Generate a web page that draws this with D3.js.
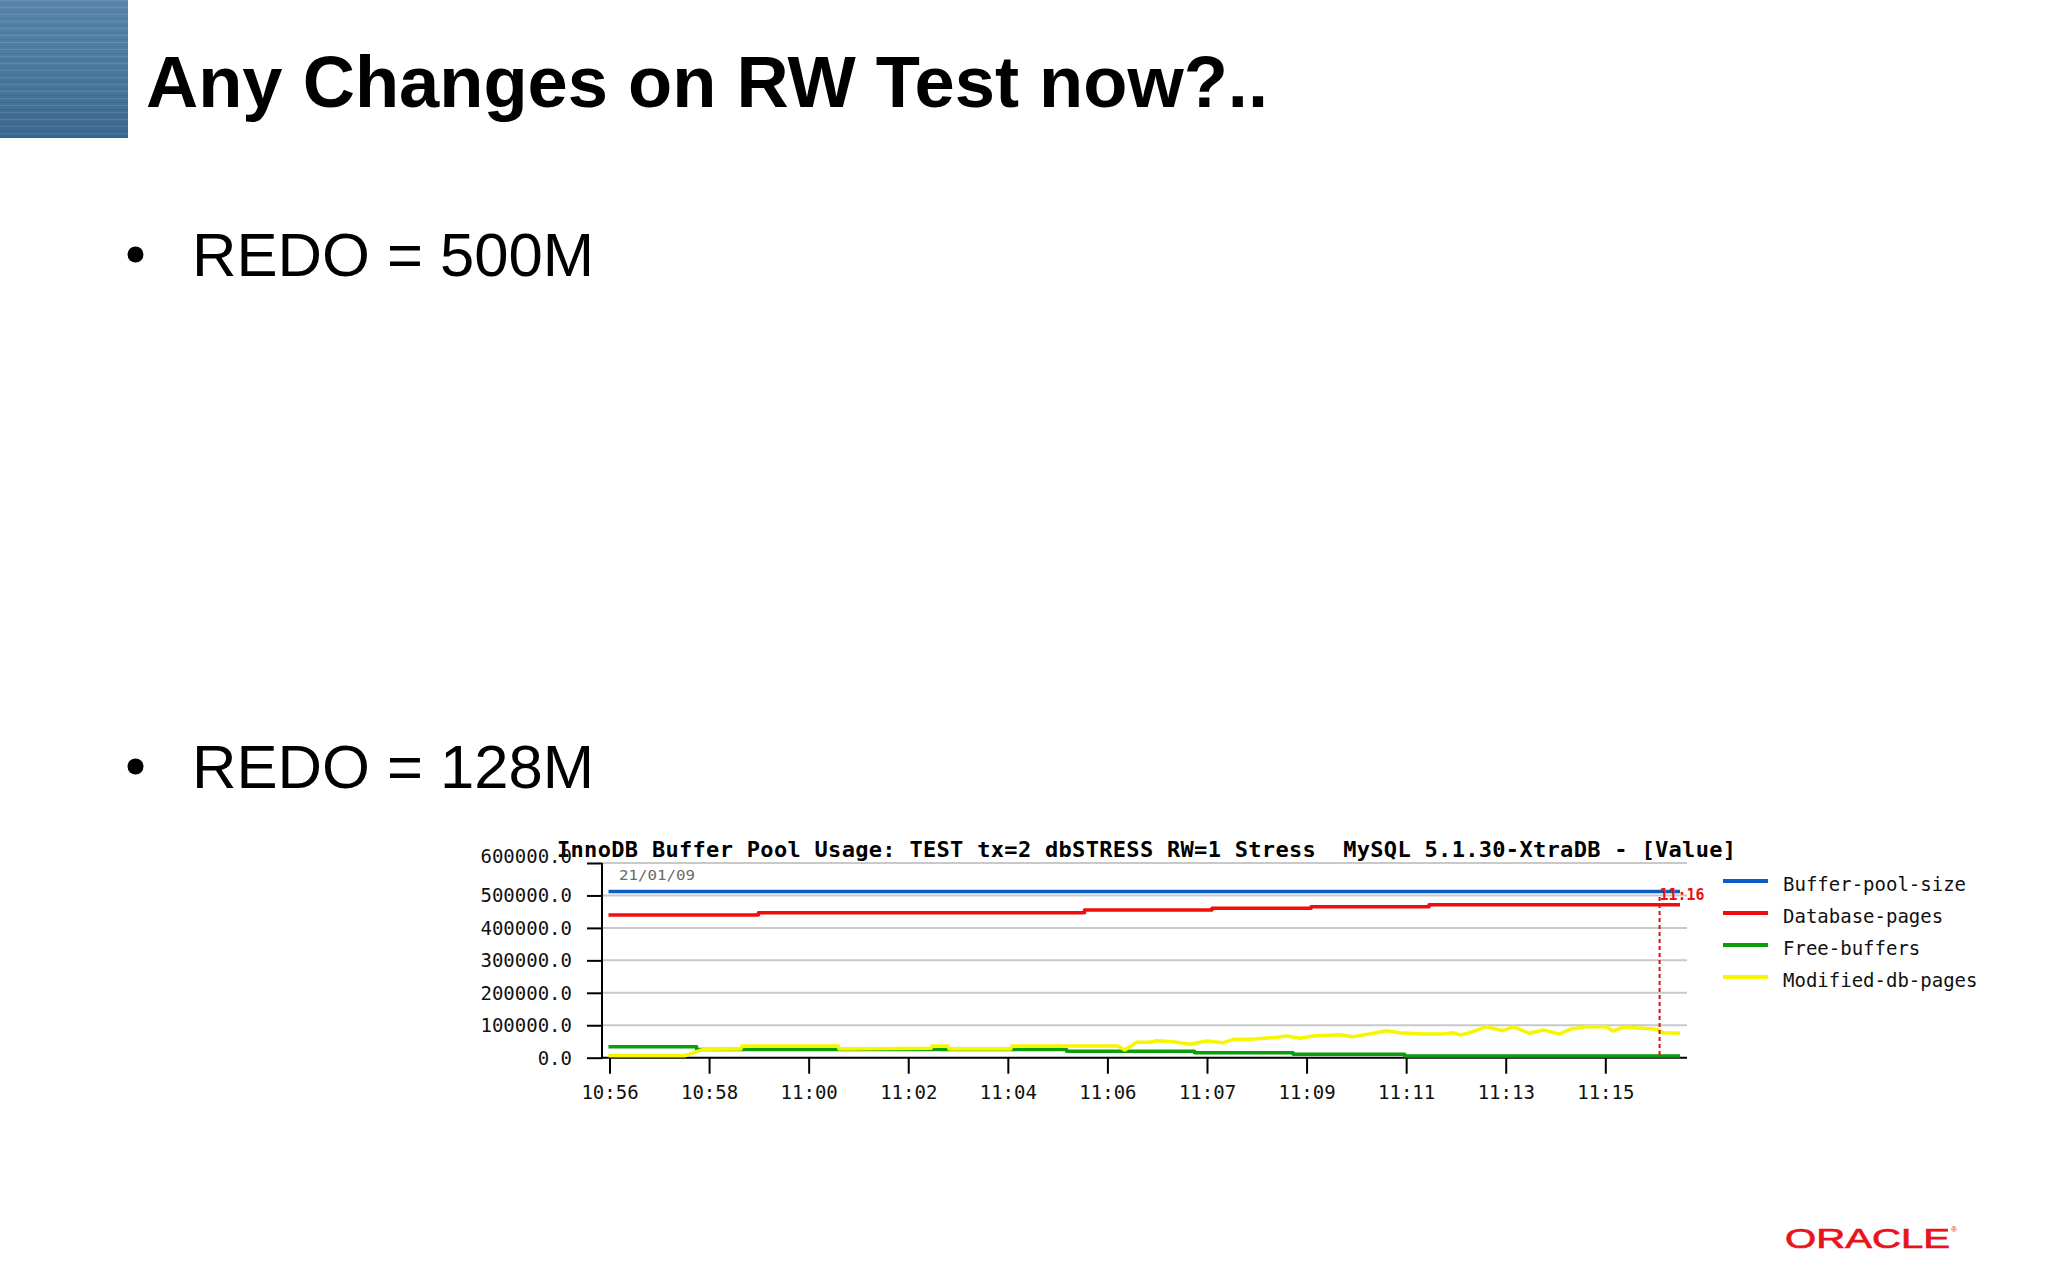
<!DOCTYPE html>
<html><head><meta charset="utf-8">
<script src="https://cdn.jsdelivr.net/npm/d3@7"></script>
<style>html,body{margin:0;padding:0;background:#fff;} svg{display:block}</style>
</head><body><svg id="c" width="2048" height="1285"></svg>
<script>
// ---- slide text ----
const slideTitle = "Any Changes on RW Test now?..";
const bullets = ["REDO = 500M", "REDO = 128M"];
const logoText = "ORACLE";

// ---- chart text ----
const chartTitle = "InnoDB Buffer Pool Usage: TEST tx=2 dbSTRESS RW=1 Stress  MySQL 5.1.30-XtraDB - [Value]";
const dateLabel = "21/01/09";
const cursorLabel = "11:16";
const cursorMinute = 21.11;
const seriesNames = ["Buffer-pool-size", "Database-pages", "Free-buffers", "Modified-db-pages"];
const seriesColors = ["#0c5ec6", "#f20c0c", "#0a9e0a", "#f6f600"];

// ---- axes ----
const yTicks = [0, 100000, 200000, 300000, 400000, 500000, 600000];
const xTickMinutes = [0.02, 2.02, 4.02, 6.02, 8.02, 10.02, 12.02, 14.02, 16.02, 18.02, 20.02];
const xTickLabels = ["10:56", "10:58", "11:00", "11:02", "11:04", "11:06", "11:07", "11:09", "11:11", "11:13", "11:15"];
const xDomain = [0, 21.52];

// ---- series (elapsed minutes, value) ----
const bufferPoolTime = [0, 21.52];
const bufferPoolValue = [512000, 512000];

const dbPagesTime = [0, 3.01, 9.56, 12.12, 14.11, 16.48, 21.52];
const dbPagesValue = [439800, 446800, 455200, 460400, 465300, 471500, 471500];

const freeTime = [0, 1.77, 9.20, 11.77, 13.75, 15.99, 21.52];
const freeValue = [33900, 25000, 19500, 15400, 10500, 5200, 5200];

const modTime = [0, 1.54, 1.90, 2.66, 2.68, 4.61, 4.63, 6.48, 6.50, 6.82, 6.84, 8.08, 8.10, 10.23, 10.37,
  10.61, 10.87, 11.01, 11.34, 11.68, 12.01, 12.35, 12.55, 12.88, 13.35, 13.62, 13.89, 14.15, 14.69, 14.96,
  15.36, 15.63, 15.89, 16.36, 16.76, 16.96, 17.10, 17.30, 17.63, 17.97, 18.17, 18.50, 18.77, 19.10, 19.31,
  19.64, 20.04, 20.17, 20.38, 20.78, 21.05, 21.18, 21.52];
const modValue = [6200, 6200, 25900, 26800, 36100, 36100, 26800, 29000, 36100, 36100, 26800, 26800, 36100, 36100, 23700,
  47500, 47500, 52400, 49300, 41300, 51500, 46200, 56700, 56700, 61600, 66900, 59800, 66900, 70900, 64700,
  75200, 83200, 77000, 73000, 73000, 77000, 70000, 77000, 95500, 83200, 95500, 75200, 85400, 73000, 87500,
  95500, 95500, 82300, 93700, 90600, 87500, 77000, 75200];

const svg = d3.select("#c");
const mono = "'DejaVu Sans Mono', 'Liberation Mono', monospace";
const sans = "'Liberation Sans', Arial, Helvetica, sans-serif";

// ---- slide decoration ----
const defs = svg.append("defs");
const g1 = defs.append("linearGradient").attr("id", "blk").attr("x1", 0).attr("y1", 0).attr("x2", 0).attr("y2", 1);
g1.append("stop").attr("offset", "0%").attr("stop-color", "#5886ab");
g1.append("stop").attr("offset", "50%").attr("stop-color", "#4a799f");
g1.append("stop").attr("offset", "100%").attr("stop-color", "#3b6890");
const pat = defs.append("pattern").attr("id", "stripes").attr("width", 128).attr("height", 7).attr("patternUnits", "userSpaceOnUse");
pat.append("rect").attr("x", 0).attr("y", 0).attr("width", 128).attr("height", 1).attr("fill", "#ffffff").attr("opacity", 0.10);
pat.append("rect").attr("x", 0).attr("y", 4).attr("width", 128).attr("height", 1).attr("fill", "#000000").attr("opacity", 0.06);
svg.append("rect").attr("x", 0).attr("y", 0).attr("width", 128).attr("height", 138).attr("fill", "url(#blk)");
svg.append("rect").attr("x", 0).attr("y", 0).attr("width", 128).attr("height", 138).attr("fill", "url(#stripes)");

svg.append("text").attr("x", 146).attr("y", 107)
  .attr("font-family", sans).attr("font-weight", "bold").attr("font-size", 72)
  .attr("textLength", 1122).attr("lengthAdjust", "spacingAndGlyphs")
  .attr("fill", "#000").text(slideTitle);

bullets.forEach((b, i) => {
  const by = 276 + i * 512;
  svg.append("circle").attr("cx", 135.5).attr("cy", by - 21.5).attr("r", 8).attr("fill", "#000");
  svg.append("text").attr("x", 192).attr("y", by)
    .attr("font-family", sans).attr("font-size", 62)
    .attr("textLength", 402).attr("lengthAdjust", "spacingAndGlyphs")
    .attr("fill", "#000").text(b);
});

svg.append("text").attr("x", 1785).attr("y", 1248)
  .attr("font-family", sans).attr("font-size", 28)
  .attr("textLength", 165).attr("lengthAdjust", "spacingAndGlyphs")
  .attr("fill", "#e8141c").attr("stroke", "#e8141c").attr("stroke-width", 0.7).text(logoText);
svg.append("text").attr("x", 1951).attr("y", 1232)
  .attr("font-family", sans).attr("font-size", 8).attr("fill", "#e8141c").text("®");

// ---- chart ----
const x = d3.scaleLinear().domain(xDomain).range([608.5, 1680]);
const y = d3.scaleLinear().domain([0, 600000]).range([1057.7, 863]);
const axisLeft = 602, plotRight = 1687;

const chart = svg.append("g");

// gridlines
chart.append("g").selectAll("line").data(yTicks.filter(d => d > 0)).join("line")
  .attr("x1", axisLeft).attr("x2", plotRight)
  .attr("y1", d => y(d)).attr("y2", d => y(d))
  .attr("stroke", "#c9c9c9").attr("stroke-width", 2);

// title
chart.append("text").attr("x", 557).attr("y", 857)
  .attr("font-family", mono).attr("font-weight", "bold").attr("font-size", 22)
  .attr("textLength", 1179).attr("lengthAdjust", "spacing")
  .style("white-space", "pre").attr("fill", "#000").text(chartTitle);

// date label
chart.append("text").attr("x", 619).attr("y", 880)
  .attr("font-family", mono).attr("font-size", 14)
  .attr("textLength", 76).attr("lengthAdjust", "spacingAndGlyphs")
  .attr("fill", "#6a6a6a").text(dateLabel);

// y axis
const yAxis = d3.axisLeft(y).tickValues(yTicks).tickSize(15).tickPadding(15)
  .tickFormat(d => d3.format(".1f")(d));
const yg = chart.append("g").attr("transform", `translate(${axisLeft},0)`).call(yAxis);
yg.select(".domain").remove();
yg.selectAll(".tick line").attr("stroke", "#000").attr("stroke-width", 2);
yg.selectAll(".tick text").attr("font-family", mono).attr("font-size", 19).attr("fill", "#111")
  .attr("dy", d => d === 600000 ? "-0.05em" : "0.34em");
chart.append("line").attr("x1", axisLeft).attr("x2", axisLeft).attr("y1", y(600000)).attr("y2", y(0) + 1)
  .attr("stroke", "#000").attr("stroke-width", 2);

// x axis
const xAxis = d3.axisBottom(x).tickValues(xTickMinutes).tickSize(16).tickPadding(10)
  .tickFormat((d, i) => xTickLabels[i]);
const xg = chart.append("g").attr("transform", `translate(0,${y(0)})`).call(xAxis);
xg.select(".domain").remove();
xg.selectAll(".tick line").attr("stroke", "#000").attr("stroke-width", 2);
xg.selectAll(".tick text").attr("font-family", mono).attr("font-size", 19).attr("fill", "#111")
  .attr("dy", "0.8em");
chart.append("line").attr("x1", axisLeft).attr("x2", plotRight).attr("y1", y(0)).attr("y2", y(0))
  .attr("stroke", "#000").attr("stroke-width", 2);

// series
const series = [
  { t: bufferPoolTime, v: bufferPoolValue, curve: d3.curveStepAfter },
  { t: dbPagesTime, v: dbPagesValue, curve: d3.curveStepAfter },
  { t: freeTime, v: freeValue, curve: d3.curveStepAfter },
  { t: modTime, v: modValue, curve: d3.curveLinear }
];
series.forEach((s, i) => {
  const pts = s.t.map((t, k) => [t, s.v[k]]);
  const line = d3.line().x(d => x(d[0])).y(d => y(d[1])).curve(s.curve);
  chart.append("path").datum(pts).attr("d", line)
    .attr("fill", "none").attr("stroke", seriesColors[i]).attr("stroke-width", 3.5)
    .attr("stroke-linejoin", "round");
});

// cursor
chart.append("line").attr("x1", x(cursorMinute)).attr("x2", x(cursorMinute))
  .attr("y1", 897).attr("y2", y(0))
  .attr("stroke", "#e01010").attr("stroke-width", 2).attr("stroke-dasharray", "4,3");
chart.append("text").attr("x", x(cursorMinute)).attr("y", 900)
  .attr("font-family", mono).attr("font-weight", "bold").attr("font-size", 15)
  .attr("textLength", 45).attr("lengthAdjust", "spacingAndGlyphs")
  .attr("fill", "#ee1010").text(cursorLabel);

// legend
const leg = chart.append("g");
seriesNames.forEach((n, i) => {
  const ly = 881 + i * 32;
  leg.append("line").attr("x1", 1723).attr("x2", 1768).attr("y1", ly).attr("y2", ly)
    .attr("stroke", seriesColors[i]).attr("stroke-width", 4);
  leg.append("text").attr("x", 1783).attr("y", ly + 10)
    .attr("font-family", mono).attr("font-size", 19).attr("fill", "#111").text(n);
});
</script>
</body></html>
